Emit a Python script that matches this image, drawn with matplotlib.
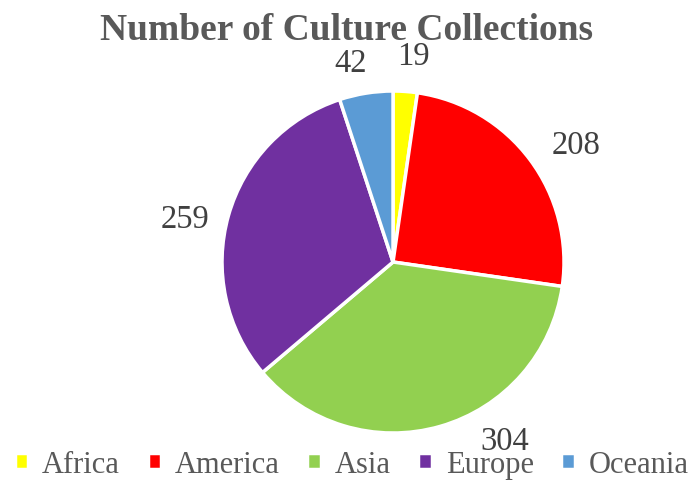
import numpy as np
import matplotlib
matplotlib.use("Agg")
import matplotlib.pyplot as plt

regions = ["Africa", "America", "Asia", "Europe", "Oceania"]
counts = [19, 208, 304, 259, 42]
colors = ["#FFFF00", "#FF0000", "#92D050", "#7030A0", "#5B9BD5"]

# label placement tweaks (degrees off slice middle, radius) to mimic Excel best fit
label_shift = [-1.5, -4, 16, 4, 3]
label_dist = [1.21, 1.27, 1.23, 1.24, 1.19]

plt.rcParams["font.family"] = ["Liberation Serif", "DejaVu Serif"]

fig = plt.figure(figsize=(6.94, 4.81), dpi=100)
ax = fig.add_axes([0.3199, 0.0977, 0.4928, 0.711])

wedges, _ = ax.pie(counts, colors=colors, startangle=90, counterclock=False,
                   wedgeprops=dict(edgecolor="white", linewidth=2.5))
for w, c, s, d in zip(wedges, counts, label_shift, label_dist):
    mid = np.deg2rad((w.theta1 + w.theta2) / 2 + s)
    ax.text(d * np.cos(mid), d * np.sin(mid), str(c), ha="center", va="center",
            fontsize=23.5, color="#404040", clip_on=False)
ax.set_aspect("equal")
ax.set_xlim(-1, 1)
ax.set_ylim(-1, 1)

fig.text(0.5, 0.937, "Number of Culture Collections", ha="center", va="center",
         fontsize=27, fontweight="bold", color="#595959")

fig.legend(wedges, regions, loc="lower center", bbox_to_anchor=(0.507, -0.055), ncol=5,
           frameon=False, fontsize=22, labelcolor="#595959", handlelength=0.45,
           handleheight=0.45, handletextpad=0.45, columnspacing=0.9)

fig.savefig("out.png", dpi=100)
